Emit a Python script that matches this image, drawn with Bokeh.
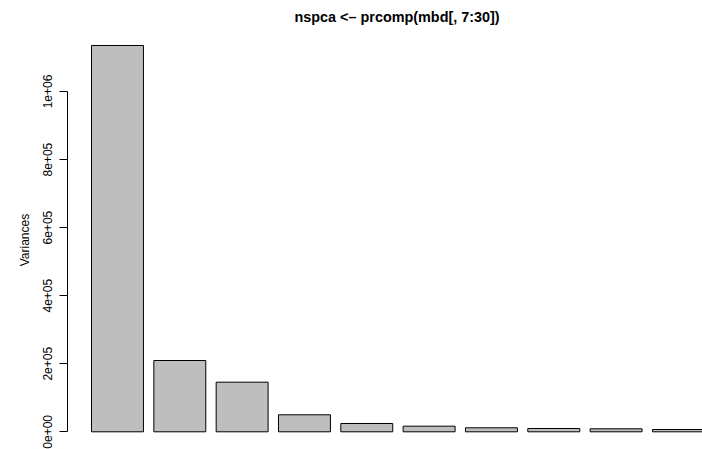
from bokeh.plotting import figure
from bokeh.models import Range1d, FixedTicker, Title
from bokeh.embed import file_html
from bokeh.resources import INLINE

# ---- data ----
components = ["PC1", "PC2", "PC3", "PC4", "PC5", "PC6", "PC7", "PC8", "PC9", "PC10"]
variances = [1135200, 209500, 145800, 50000, 24400, 16500, 11800, 9700, 8800, 6800]
ytick_values = [0, 200000, 400000, 600000, 800000, 1000000]
ytick_labels = ["0e+00", "2e+05", "4e+05", "6e+05", "8e+05", "1e+06"]
title_text = "nspca <\u2013 prcomp(mbd[, 7:30])"
ylabel_text = "Variances"

# ---- layout (R barplot style: width 1, space 0.2) ----
bar_width = 1.0
space = 0.2
x_mid = [space + bar_width / 2 + i * (bar_width + space) for i in range(len(variances))]

FONT = "Liberation Sans"

p = figure(
    width=702, height=449,
    x_range=Range1d(-0.2621, 11.9636),
    y_range=Range1d(-52013, 1179250),
    x_axis_location=None, y_axis_location="left",
    toolbar_location=None, output_backend="svg",
    min_border_left=67, min_border_right=0,
    min_border_top=30, min_border_bottom=0,
    outline_line_color=None,
    background_fill_color="white", border_fill_color="white",
)
p.grid.visible = False

p.vbar(x=x_mid, top=variances, bottom=0, width=bar_width,
       fill_color="#BEBEBE", line_color="black", line_width=1)

ax = p.yaxis[0]
ax.ticker = FixedTicker(ticks=ytick_values)
ax.major_label_overrides = dict(zip(ytick_values, ytick_labels))
ax.bounds = (ytick_values[0], ytick_values[-1])
ax.axis_line_color = "black"
ax.axis_line_width = 1
ax.major_tick_line_color = "black"
ax.major_tick_out = 8
ax.major_tick_in = 0
ax.minor_tick_out = 0
ax.minor_tick_in = 0
ax.minor_tick_line_color = None
ax.major_label_orientation = "vertical"
ax.major_label_text_font = FONT
ax.major_label_text_font_size = "12px"
ax.major_label_text_color = "black"
ax.major_label_standoff = 7
ax.axis_label = ylabel_text
ax.axis_label_text_font = FONT
ax.axis_label_text_font_size = "12px"
ax.axis_label_text_font_style = "normal"
ax.axis_label_text_color = "black"
ax.axis_label_standoff = 9

title = Title(text=title_text, text_font=FONT, text_font_size="14.4px",
              text_font_style="bold", text_color="black",
              align="left", offset=227, standoff=11, vertical_align="bottom")
p.add_layout(title, "above")

open("out.html", "w").write(file_html(p, INLINE))
